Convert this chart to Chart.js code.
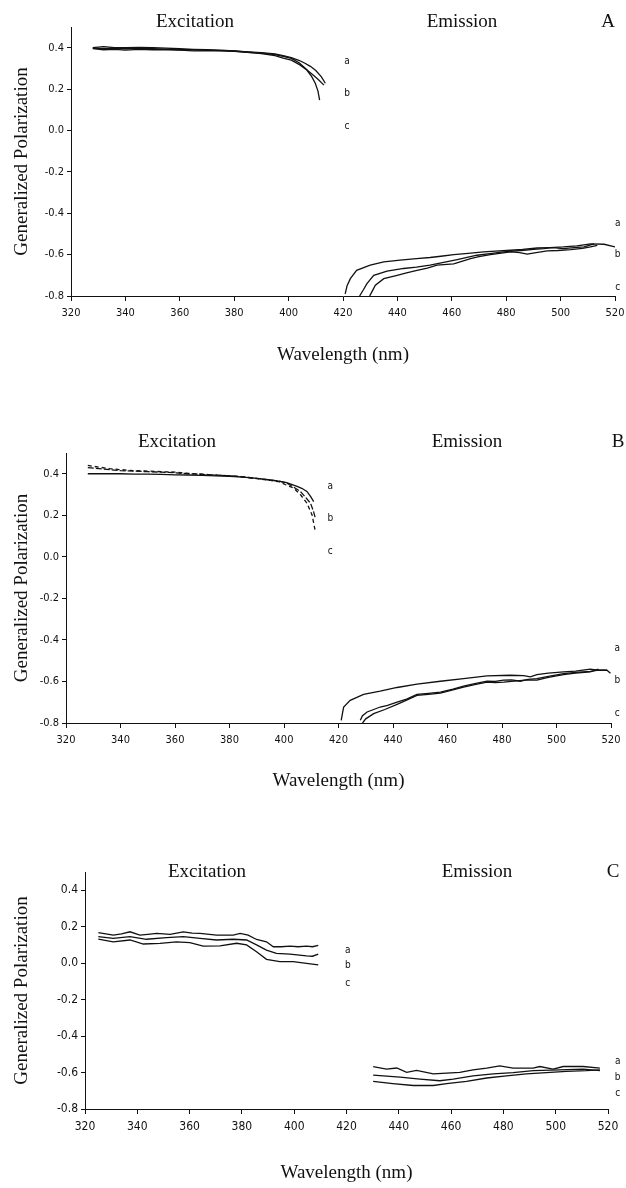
<!DOCTYPE html>
<html>
<head>
<meta charset="utf-8">
<script src="https://cdn.jsdelivr.net/npm/chart.js@4.4.1/dist/chart.umd.min.js"></script>
<style>
  body { margin: 0; background: #fff; width: 626px; height: 1188px; position: relative; overflow: hidden; }
  canvas { position: absolute; left: 0; }
</style>
</head>
<body>
<canvas id="chartA" width="626" height="395" style="top:0px"></canvas>
<canvas id="chartB" width="626" height="395" style="top:400px"></canvas>
<canvas id="chartC" width="626" height="388" style="top:800px"></canvas>
<script>
// Readings: [wavelength nm, generalized polarization]

// Panel A - excitation
var exA_a = [[328,0.400],[332,0.405],[336,0.400],[340,0.400],[345,0.402],[350,0.400],[355,0.398],[360,0.395],[365,0.392],[370,0.390],[375,0.388],[380,0.385],[385,0.380],[390,0.376],[395,0.370],[398,0.362],[401,0.352],[404,0.338],[406,0.325],[408,0.310],[410,0.290],[412,0.260],[413.5,0.228]];
var exA_b = [[328,0.398],[332,0.395],[336,0.398],[340,0.395],[345,0.398],[350,0.395],[355,0.393],[360,0.390],[365,0.390],[370,0.388],[375,0.386],[380,0.384],[385,0.378],[390,0.374],[395,0.366],[398,0.358],[401,0.348],[404,0.326],[407,0.290],[409,0.268],[411,0.245],[413,0.219]];
var exA_c = [[328,0.395],[332,0.390],[336,0.392],[340,0.388],[345,0.392],[350,0.390],[355,0.390],[360,0.388],[365,0.385],[370,0.386],[375,0.385],[380,0.382],[385,0.378],[390,0.372],[395,0.362],[398,0.350],[401,0.340],[404,0.318],[406.7,0.292],[408.5,0.260],[409.8,0.228],[410.8,0.190],[411.4,0.147]];
// Panel A - emission
var emA_a = [[420.8,-0.790],[421.5,-0.750],[422.7,-0.716],[425,-0.676],[430,-0.651],[435,-0.635],[441,-0.627],[447,-0.619],[452,-0.614],[456,-0.608],[460.7,-0.600],[466,-0.594],[471.7,-0.587],[476,-0.583],[481.6,-0.579],[486,-0.575],[491.4,-0.568],[496,-0.566],[501,-0.563],[506,-0.558],[511,-0.548],[516,-0.550],[520,-0.563]];
var emA_b = [[426.1,-0.800],[427.5,-0.770],[428.8,-0.740],[431.3,-0.700],[436.2,-0.680],[442.3,-0.667],[447,-0.660],[452,-0.651],[457,-0.638],[462,-0.624],[466,-0.612],[469.3,-0.603],[474,-0.595],[479,-0.587],[486.5,-0.579],[490,-0.575],[493.8,-0.571],[497,-0.566],[501,-0.571],[505,-0.566],[508.6,-0.563],[512.3,-0.548]];
var emA_c = [[429.8,-0.800],[430.8,-0.775],[431.9,-0.748],[435,-0.716],[439.9,-0.700],[443,-0.690],[447.2,-0.676],[451,-0.665],[454.6,-0.651],[460.7,-0.645],[466.9,-0.619],[470,-0.610],[474.2,-0.600],[481.6,-0.587],[485,-0.590],[487.7,-0.598],[491,-0.590],[495.1,-0.582],[499,-0.580],[503.7,-0.576],[508,-0.570],[511,-0.563],[513.5,-0.555]];

// Panel B - excitation
var exB_a = [[328,0.400],[335,0.400],[340,0.400],[345,0.398],[350,0.398],[355,0.397],[360,0.395],[365,0.394],[370,0.392],[375,0.390],[380,0.388],[385,0.384],[390,0.378],[395,0.370],[398,0.365],[401,0.357],[403,0.348],[404.8,0.339],[406.5,0.330],[408.4,0.315],[409.8,0.290],[410.9,0.266]];
var exB_b = [[328,0.430],[332,0.425],[336,0.420],[340,0.415],[345,0.413],[350,0.410],[355,0.408],[360,0.405],[365,0.400],[370,0.397],[375,0.394],[380,0.390],[385,0.385],[390,0.378],[395,0.370],[398,0.365],[401,0.355],[403,0.340],[406,0.315],[408,0.285],[409.7,0.259],[410.8,0.220],[411.5,0.186]];
var exB_c = [[328,0.440],[332,0.432],[336,0.425],[340,0.420],[345,0.415],[350,0.413],[355,0.410],[360,0.408],[365,0.402],[370,0.398],[375,0.393],[380,0.390],[385,0.385],[390,0.377],[395,0.368],[398,0.362],[401,0.345],[403.5,0.331],[406,0.300],[408.4,0.259],[410.3,0.202],[411.5,0.122]];
// Panel B - emission
var emB_a = [[421,-0.787],[421.5,-0.750],[421.9,-0.723],[424.3,-0.691],[429.2,-0.662],[435.3,-0.647],[441.5,-0.629],[448.8,-0.613],[457.4,-0.599],[465.9,-0.586],[474.5,-0.573],[483,-0.570],[488,-0.572],[490.4,-0.578],[492.8,-0.567],[497,-0.560],[502.6,-0.554],[507,-0.550],[512.4,-0.541],[515,-0.545],[518.5,-0.546]];
var emB_b = [[428,-0.787],[428.8,-0.765],[430.5,-0.747],[435.3,-0.723],[438,-0.715],[441.5,-0.699],[445,-0.685],[448.8,-0.662],[453,-0.657],[457.4,-0.651],[462,-0.637],[465.9,-0.623],[470,-0.610],[474.5,-0.598],[477.5,-0.600],[480.6,-0.594],[483.5,-0.592],[486.7,-0.599],[489.5,-0.590],[492.8,-0.586],[497,-0.575],[502.6,-0.562],[507,-0.556],[512.4,-0.551],[515.4,-0.545],[518.5,-0.546],[519.8,-0.560]];
var emB_c = [[428.8,-0.800],[430,-0.780],[432.9,-0.755],[437,-0.735],[441.5,-0.710],[445,-0.690],[448.8,-0.667],[453,-0.662],[457.4,-0.656],[462,-0.640],[465.9,-0.627],[470,-0.615],[474.5,-0.603],[477.5,-0.605],[480.6,-0.603],[484.5,-0.598],[488.5,-0.594],[492.8,-0.594],[497,-0.580],[502.6,-0.567],[507,-0.560],[512.4,-0.554],[515.4,-0.541]];

// Panel C - excitation
var exC_a = [[325.1,0.168],[330.8,0.154],[334,0.160],[337.2,0.172],[341,0.154],[344,0.158],[347.4,0.163],[352.5,0.158],[357.6,0.172],[361,0.165],[364,0.163],[370.3,0.154],[376.7,0.154],[379.3,0.163],[382.4,0.154],[385.6,0.130],[389.4,0.117],[392,0.090],[395,0.090],[398.4,0.093],[401.5,0.090],[404.7,0.093],[407,0.090],[409.2,0.098]];
var exC_b = [[325.1,0.145],[330.8,0.136],[337.2,0.145],[343.5,0.131],[351.2,0.140],[357.6,0.145],[364,0.136],[370.3,0.127],[376.7,0.131],[381.8,0.127],[385.6,0.100],[389.4,0.072],[393.2,0.054],[398.4,0.050],[404.7,0.040],[407,0.038],[409.2,0.050]];
var exC_c = [[325.1,0.132],[330.8,0.117],[337.2,0.127],[342.3,0.105],[348.7,0.109],[355,0.117],[360.1,0.113],[365.2,0.093],[371.6,0.095],[378,0.109],[381.8,0.100],[385.6,0.063],[389.4,0.021],[394.5,0.008],[399.6,0.008],[404.7,-0.001],[409.2,-0.010]];
// Panel C - emission
var emC_a = [[430.2,-0.567],[435.3,-0.581],[439.2,-0.575],[443,-0.599],[446.8,-0.588],[453.2,-0.607],[458.3,-0.603],[463.3,-0.599],[468.4,-0.585],[473.6,-0.576],[478.6,-0.563],[483.7,-0.576],[491.4,-0.576],[493.9,-0.567],[499,-0.581],[502.9,-0.567],[510.5,-0.567],[516.9,-0.576]];
var emC_b = [[430.2,-0.614],[440.5,-0.625],[448.1,-0.636],[455.7,-0.645],[460.8,-0.636],[468.4,-0.618],[476.1,-0.607],[483.7,-0.600],[491.4,-0.590],[501.5,-0.585],[510.5,-0.581],[516.9,-0.590]];
var emC_c = [[430.2,-0.649],[437.7,-0.661],[445.5,-0.671],[453.2,-0.671],[458.3,-0.661],[465.9,-0.649],[473.6,-0.630],[481.2,-0.618],[488.8,-0.607],[496.4,-0.600],[504.1,-0.594],[511.7,-0.590],[516.9,-0.585]];

var curveNames = ['a', 'b', 'c'];

var serif = "'Liberation Serif', 'Times New Roman', serif";
var narrow = "'Liberation Sans Narrow', 'DejaVu Sans Condensed', 'Liberation Sans', sans-serif";
var ink = '#111';

// Draws the panel headings and the a/b/c curve tags
var annotate = {
  id: 'annotate',
  afterDraw(chart, args, opts) {
    const ctx = chart.ctx;
    const x = chart.scales.x, y = chart.scales.y;
    ctx.save();
    ctx.fillStyle = ink;
    ctx.textAlign = 'center';
    ctx.textBaseline = 'middle';
    ctx.font = '19px ' + serif;
    ctx.fillText('Excitation', opts.exTitle[0], opts.exTitle[1]);
    ctx.fillText('Emission', opts.emTitle[0], opts.emTitle[1]);
    ctx.fillText(opts.letter, opts.letterPos[0], opts.letterPos[1]);
    ctx.font = '10px ' + narrow;
    curveNames.forEach((t, i) => {
      ctx.fillText(t, x.getPixelForValue(opts.exTags.x), y.getPixelForValue(opts.exTags.y[i]));
      ctx.fillText(t, x.getPixelForValue(opts.emTags.x), y.getPixelForValue(opts.emTags.y[i]));
    });
    ctx.restore();
  }
};

function series(pts, dash) {
  return {
    data: pts.map(p => ({x: p[0], y: p[1]})),
    borderColor: ink,
    borderWidth: 1.3,
    borderDash: dash || [],
    pointRadius: 0,
    fill: false,
    tension: 0
  };
}

function makePanel(p) {
  const padLeft = 11;
  const titleHalf = 11.4;
  const canvas = document.getElementById(p.id);
  return new Chart(canvas, {
    type: 'line',
    data: { datasets: p.curves.map((c, i) => series(c, p.dashes ? p.dashes[i] : null)) },
    options: {
      responsive: false,
      animation: false,
      layout: {
        padding: {
          left: padLeft,
          top: p.area.top,
          right: canvas.width - p.area.right,
          bottom: canvas.height - p.xTitleY - titleHalf
        }
      },
      scales: {
        x: {
          type: 'linear', min: 320, max: 520,
          ticks: { stepSize: 20, color: ink, padding: 6, maxRotation: 0, autoSkip: false,
                   font: { family: narrow, size: p.tickSize } },
          grid: { drawOnChartArea: false, tickLength: 5, color: ink },
          border: { color: ink, width: 1 },
          title: { display: true, text: 'Wavelength (nm)', color: ink, padding: 0,
                   font: { family: serif, size: 19 } },
          afterFit: s => {
            s.height = p.xTitleY + titleHalf - p.area.bottom;
            // keep the plot edge where the layout padding puts it
            s.paddingLeft = 0;
            s.paddingRight = 0;
          }
        },
        y: {
          min: -0.8, max: 0.5,
          ticks: { stepSize: 0.2, includeBounds: false, color: ink, padding: 3,
                   font: { family: narrow, size: p.tickSize },
                   callback: v => v.toFixed(1) },
          grid: { drawOnChartArea: false, tickLength: 4, color: ink },
          border: { color: ink, width: 1 },
          title: { display: true, text: 'Generalized Polarization', color: ink, padding: 0,
                   font: { family: serif, size: 19 } },
          afterFit: s => { s.width = p.area.left - padLeft; }
        }
      },
      plugins: {
        legend: { display: false },
        tooltip: { enabled: false },
        annotate: p.notes
      }
    },
    plugins: [annotate]
  });
}

makePanel({
  id: 'chartA', tickSize: 11,
  area: { left: 71, top: 27, right: 615, bottom: 296 }, xTitleY: 355,
  curves: [exA_a, exA_b, exA_c, emA_a, emA_b, emA_c],
  notes: { exTitle: [195, 22], emTitle: [462, 22], letter: 'A', letterPos: [608, 22],
           exTags: { x: 421.5, y: [0.336, 0.181, 0.021] },
           emTags: { x: 521, y: [-0.448, -0.598, -0.758] } }
});

makePanel({
  id: 'chartB', tickSize: 11,
  area: { left: 66, top: 53, right: 611, bottom: 323 }, xTitleY: 381,
  curves: [exB_a, exB_b, exB_c, emB_a, emB_b, emB_c],
  dashes: [null, [6, 2], [4, 3], null, null, null],
  notes: { exTitle: [177, 42], emTitle: [467, 42], letter: 'B', letterPos: [618, 42],
           exTags: { x: 417, y: [0.337, 0.183, 0.024] },
           emTags: { x: 522.3, y: [-0.44, -0.594, -0.753] } }
});

makePanel({
  id: 'chartC', tickSize: 12,
  area: { left: 85, top: 72, right: 608, bottom: 309 }, xTitleY: 373,
  curves: [exC_a, exC_b, exC_c, emC_a, emC_b, emC_c],
  notes: { exTitle: [207, 72], emTitle: [477, 72], letter: 'C', letterPos: [613, 72],
           exTags: { x: 420.5, y: [0.072, -0.01, -0.109] },
           emTags: { x: 523.7, y: [-0.541, -0.628, -0.716] } }
});
</script>
</body>
</html>
